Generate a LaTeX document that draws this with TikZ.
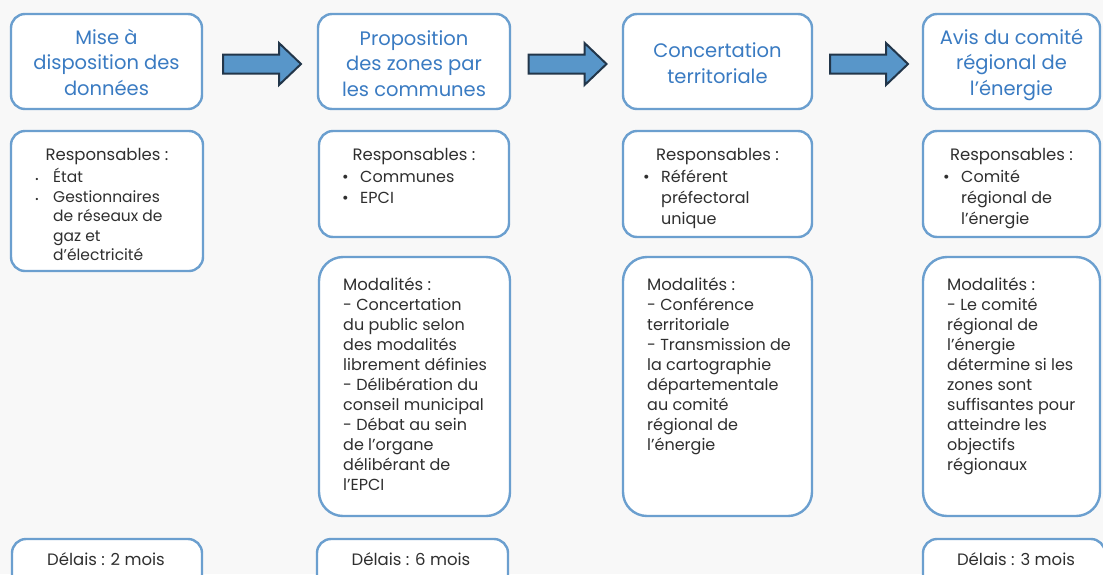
\documentclass[tikz,border=0pt]{standalone}
\usepackage{fontspec}
\setmainfont{Poppins}
\definecolor{boxblue}{HTML}{6B9FCF}
\definecolor{titleblue}{HTML}{3A7BC2}
\definecolor{inkgray}{HTML}{2F2F2F}
\definecolor{arrowfill}{HTML}{5896C9}
\definecolor{arrowedge}{HTML}{22364A}
\definecolor{paper}{HTML}{F8F8F8}
% bullet with fixed hanging indent, and the matching indent for wrapped lines
\newcommand\bul{\makebox[18pt][l]{\textbullet}}
\newcommand\cont{\hspace*{18pt}}
\begin{document}
\begin{tikzpicture}[x=1pt,y=-1pt,
  panel/.style={draw=boxblue, line width=2.4pt, fill=white, rounded corners=14pt,
    inner sep=0pt, outer sep=0pt, anchor=north west},
  bigpanel/.style={panel, rounded corners=24pt},
  titletext/.style={text=titleblue, align=center, inner sep=0pt, anchor=north,
    font=\fontsize{19.5}{25.5}\selectfont},
  listtext/.style={text=inkgray, align=left, inner sep=0pt, anchor=north west,
    font=\fontsize{16}{21}\selectfont},
  modtext/.style={text=inkgray, align=left, inner sep=0pt, anchor=north west,
    font=\fontsize{16}{20}\selectfont},
  headtext/.style={text=inkgray, inner sep=0pt, anchor=base,
    font=\fontsize{16.5}{20}\selectfont},
  fatarrow/.pic={\draw[fill=arrowfill, draw=arrowedge, line width=2pt, line join=miter]
    (-39,-9.5) -- (17,-9.5) -- (17,-21) -- (39,0) -- (17,21) -- (17,9.5) -- (-39,9.5) -- cycle;}
]
\useasboundingbox (0,0) rectangle (1103,574);
\fill[paper] (0,0) rectangle (1103,574);

% ---- step titles ----
\node[panel, minimum width=191pt, minimum height=95pt] (t1) at (11,14) {};
\node[panel, minimum width=192pt, minimum height=95pt] (t2) at (318,14) {};
\node[panel, minimum width=189pt, minimum height=95pt] (t3) at (623,14) {};
\node[panel, minimum width=177pt, minimum height=95pt] (t4) at (923,14) {};

\node[titletext] (t1txt) at (t1.north |- 0,26) {\strut Mise à\\disposition des\\données};
\node[titletext] (t2txt) at (t2.north |- 0,27) {\strut Proposition\\des zones par\\les communes};
\node[titletext] (t3txt) at (t3.north |- 0,39.5) {\strut Concertation\\territoriale};
\node[titletext] (t4txt) at (t4.north |- 0,26) {\strut Avis du comité\\régional de\\l’énergie};

% ---- arrows between steps ----
\pic at (262,64) {fatarrow};
\pic at (567.5,64) {fatarrow};
\pic at (869,64) {fatarrow};

% ---- responsables ----
\node[panel, minimum width=192pt, minimum height=140pt] (r1) at (11,131) {};
\node[panel, minimum width=190pt, minimum height=106pt] (r2) at (319,131) {};
\node[panel, minimum width=189pt, minimum height=106pt] (r3) at (623,131) {};
\node[panel, minimum width=177pt, minimum height=106pt] (r4) at (923,131) {};

\node[headtext] (r1h) at (r1.north |- 0,160) {Responsables :};
\node[headtext] (r2h) at (r2.north |- 0,160) {Responsables :};
\node[headtext] (r3h) at (r3.north |- 0,160) {Responsables :};
\node[headtext] (r4h) at (r4.north |- 0,160) {Responsables :};

\node[listtext, font=\fontsize{15.5}{19.5}\selectfont] (r1l) at (35,168.4)
  {\strut{\small\bul}État\\{\small\bul}Gestionnaires\\\cont de réseaux de\\\cont gaz et\\\cont d’électricité};
\node[listtext] (r2l) at (342,167.3) {\strut\bul Communes\\\bul EPCI};
\node[listtext] (r3l) at (643,167.3) {\strut\bul Référent\\\cont préfectoral\\\cont unique};
\node[listtext] (r4l) at (943,167.3) {\strut\bul Comité\\\cont régional de\\\cont l’énergie};

% ---- modalites ----
\node[bigpanel, minimum width=191pt, minimum height=259pt] (m2) at (319,257) {};
\node[bigpanel, minimum width=189pt, minimum height=259pt] (m3) at (623,257) {};
\node[bigpanel, minimum width=177pt, minimum height=259pt] (m4) at (923,257) {};

\node[modtext] (m2t) at (343,276) {\strut{\fontsize{16.5}{20}\selectfont Modalités :}\\- Concertation\\du public selon\\des modalités\\librement définies\\- Délibération du\\conseil municipal\\- Débat au sein\\de l’organe\\délibérant de\\l’EPCI};
\node[modtext] (m3t) at (647,276) {\strut{\fontsize{16.5}{20}\selectfont Modalités :}\\- Conférence\\territoriale\\- Transmission de\\la cartographie\\départementale\\au comité\\régional de\\l’énergie};
\node[modtext] (m4t) at (947,276) {\strut{\fontsize{16.5}{20}\selectfont Modalités :}\\- Le comité\\régional de\\l’énergie\\détermine si les\\zones sont\\suffisantes pour\\atteindre les\\objectifs\\régionaux};

% ---- delais ----
\node[panel, minimum width=190pt, minimum height=50pt] (d1) at (12,539) {};
\node[panel, minimum width=191pt, minimum height=50pt] (d2) at (317,539) {};
\node[panel, minimum width=182pt, minimum height=50pt] (d4) at (923,539) {};

\node[headtext] (d1t) at (106,565) {Délais : 2 mois};
\node[headtext] (d2t) at (411,565) {Délais : 6 mois};
\node[headtext] (d4t) at (1016,565) {Délais : 3 mois};
\end{tikzpicture}
\end{document}
